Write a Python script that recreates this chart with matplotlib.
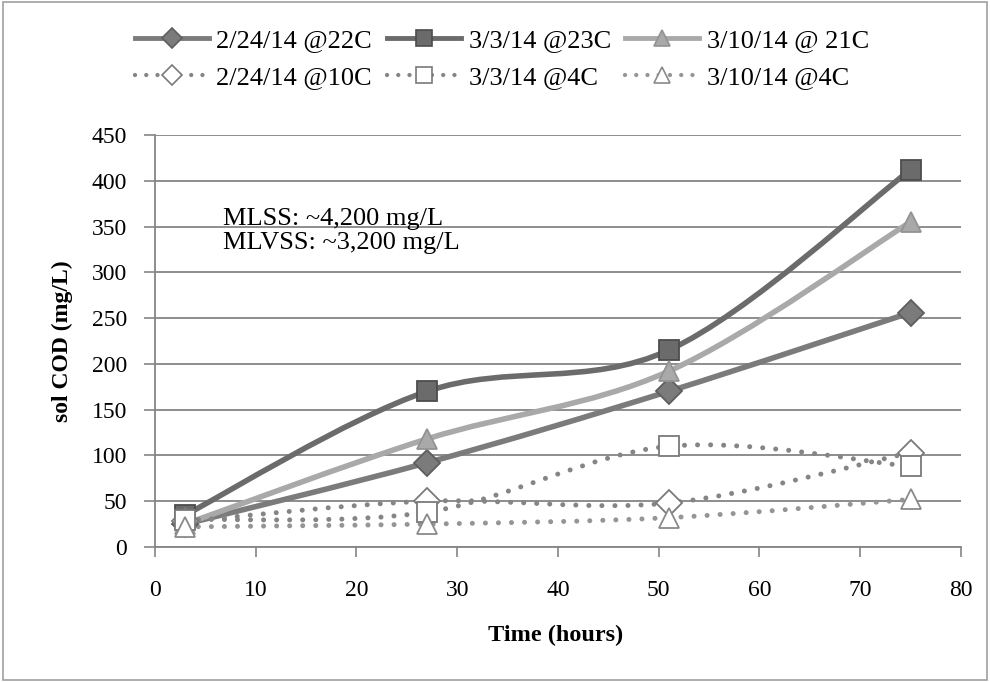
import numpy as np
import matplotlib
matplotlib.use('Agg')
import matplotlib.pyplot as plt
from matplotlib.path import Path
from matplotlib.patches import PathPatch, Rectangle
from matplotlib.lines import Line2D

plt.rcParams['font.family'] = ['Liberation Serif', 'DejaVu Serif']

# data
hours = [3, 27, 51, 75]
cod_0224_22 = [25, 92, 170, 256]
cod_0303_23 = [35, 170, 215, 412]
cod_0310_21 = [25, 118, 192, 355]
cod_0224_10 = [28, 50, 48, 103]
cod_0303_4 = [30, 38, 110, 88]
cod_0310_4 = [22, 25, 32, 52]

labels = ['2/24/14 @22C', '3/3/14 @23C', '3/10/14 @ 21C',
          '2/24/14 @10C', '3/3/14 @4C', '3/10/14 @4C']


def smooth_path(x, y):
    # Excel style smoothed line: Catmull-Rom segments as cubic beziers
    pts = np.column_stack([x, y]).astype(float)
    n = len(pts)
    verts = [pts[0]]
    codes = [Path.MOVETO]
    for i in range(n - 1):
        p0 = pts[i - 1] if i > 0 else pts[i]
        p1 = pts[i]
        p2 = pts[i + 1]
        p3 = pts[i + 2] if i + 2 < n else pts[i + 1]
        c1 = p1 + (p2 - p0) / 6.0
        c2 = p2 - (p3 - p1) / 6.0
        verts += [c1, c2, p2]
        codes += [Path.CURVE4] * 3
    return Path(verts, codes)


dots = (0, (0.01, 2.6))
series = [
    (cod_0224_22, dict(color='#7b7b7b', ls='-', lw=4, marker='D', ms=13, mfc='#7b7b7b', mec='#5e5e5e')),
    (cod_0303_23, dict(color='#6b6b6b', ls='-', lw=4, marker='s', ms=14, mfc='#6b6b6b', mec='#4c4c4c')),
    (cod_0310_21, dict(color='#a9a9a9', ls='-', lw=4, marker='^', ms=14, mfc='#a9a9a9', mec='#939393')),
    (cod_0224_10, dict(color='#858585', ls=dots, lw=3.6, marker='D', ms=13, mfc='white', mec='#7a7a7a')),
    (cod_0303_4, dict(color='#858585', ls=dots, lw=3.6, marker='s', ms=14, mfc='white', mec='#7a7a7a')),
    (cod_0310_4, dict(color='#959595', ls=dots, lw=3.6, marker='^', ms=14, mfc='white', mec='#8a8a8a')),
]

fig = plt.figure(figsize=(9.9, 6.82), dpi=100)
ax = fig.add_axes([0.1566, 0.198, 0.814, 0.604])

handles = []
for vals, st in series:
    patch = PathPatch(smooth_path(hours, vals), facecolor='none', edgecolor=st['color'],
                      lw=st['lw'], linestyle=st['ls'], capstyle='round', zorder=3)
    ax.add_patch(patch)
    ax.plot(hours, vals, ls='none', marker=st['marker'], ms=st['ms'], mfc=st['mfc'],
            mec=st['mec'], mew=1.3, zorder=4)
    h = Line2D([], [], color=st['color'], lw=st['lw'] - 0.5, linestyle=st['ls'],
               dash_capstyle='round', marker=st['marker'], ms=st['ms'] - 3,
               mfc=st['mfc'], mec=st['mec'], mew=1.2)
    handles.append(h)

ax.set_xlim(0, 80)
ax.set_ylim(0, 450)
ax.set_xticks(range(0, 81, 10))
ax.set_yticks(range(0, 451, 50))
ax.tick_params(axis='both', labelsize=17, colors='#858585', labelcolor='black', width=1.2)
ax.tick_params(axis='y', length=8, pad=12)
ax.tick_params(axis='x', length=7, pad=17)
ax.yaxis.grid(True, color='#858585', lw=1.3)
ax.set_axisbelow(True)
for s in ['top', 'right']:
    ax.spines[s].set_visible(False)
for s in ['left', 'bottom']:
    ax.spines[s].set_color('#858585')
    ax.spines[s].set_linewidth(1.3)

ax.set_ylabel('sol COD (mg/L)', fontsize=17, fontweight='bold')
ax.yaxis.set_label_coords(-0.102, 0.5)
ax.set_xlabel('Time (hours)', fontsize=17.5, fontweight='bold')
ax.xaxis.set_label_coords(0.497, -0.19)

ax.text(6.7, 352, 'MLSS: ~4,200 mg/L', fontsize=19, va='baseline')
ax.text(6.7, 326, 'MLVSS: ~3,200 mg/L', fontsize=19, va='baseline')

# legend fills column by column, so reorder to get the two rows right
order = [0, 3, 1, 4, 2, 5]
fig.legend(handles=[handles[i] for i in order], labels=[labels[i] for i in order],
           ncol=3, loc='upper left', bbox_to_anchor=(0.136, 0.958), borderaxespad=0,
           borderpad=0, frameon=False, fontsize=19, handlelength=2.8,
           columnspacing=0.55, handletextpad=0.3, labelspacing=0.5)

fig.patches.append(Rectangle((0.003, 0.003), 0.994, 0.994, transform=fig.transFigure,
                             fill=False, edgecolor='#a0a0a0', lw=1.2))

fig.savefig('out.png', dpi=100)
